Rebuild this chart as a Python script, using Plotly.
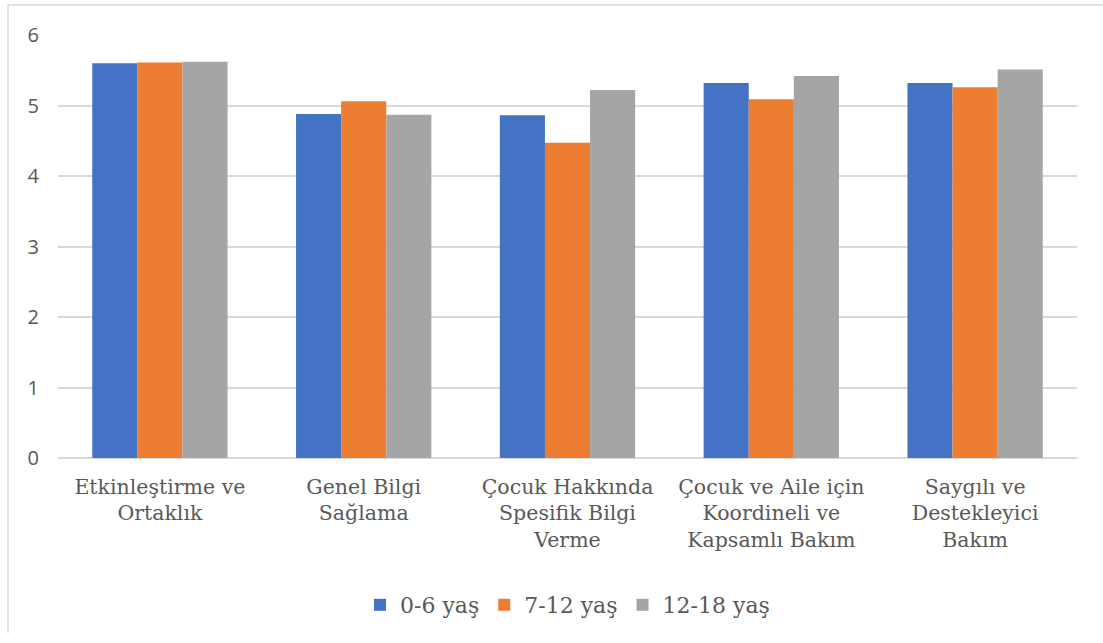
import plotly.graph_objects as go

categories = [
    "Etkinleştirme ve<br>Ortaklık",
    "Genel Bilgi<br>Sağlama",
    "Çocuk Hakkında<br>Spesifik Bilgi<br>Verme",
    "Çocuk ve Aile için<br>Koordineli ve<br>Kapsamlı Bakım",
    "Saygılı ve<br>Destekleyici<br>Bakım",
]
series_names = ["0-6 yaş", "7-12 yaş", "12-18 yaş"]
values_0_6 = [5.60, 4.88, 4.86, 5.32, 5.32]
values_7_12 = [5.61, 5.06, 4.47, 5.09, 5.26]
values_12_18 = [5.62, 4.87, 5.22, 5.42, 5.51]
colors = ["#4472C4", "#ED7D31", "#A5A5A5"]
y_ticks = [0, 1, 2, 3, 4, 5, 6]

W, H = 1103, 643
ML, MR, MT, MB = 58, 26, 35, 185
SERIF = "'DejaVu Serif', serif"

fig = go.Figure()
for name, vals, col in zip(series_names, [values_0_6, values_7_12, values_12_18], colors):
    fig.add_trace(go.Bar(name=name, x=categories, y=vals, marker=dict(color=col, line=dict(width=0))))

pw = W - ML - MR
ph = H - MT - MB

fig.update_layout(
    width=W, height=H,
    margin=dict(l=ML, r=MR, t=MT, b=MB, pad=0),
    paper_bgcolor="white", plot_bgcolor="white",
    barmode="group", bargap=0.336, bargroupgap=0,
    showlegend=True,
    font=dict(family=SERIF, color="#595959"),
    legend=dict(orientation="h", x=0.5, xanchor="center", y=(MT + ph - 605) / ph, yanchor="middle",
                font=dict(family=SERIF, size=22, color="#595959"),
                itemwidth=30, tracegroupgap=0, traceorder="normal"),
    xaxis=dict(showgrid=False, tickfont=dict(family=SERIF, size=20.5, color="#595959"),
               showline=False, ticks="", ticklabelstandoff=14),
    yaxis=dict(range=[0, 6], tickvals=y_ticks, showgrid=True, gridcolor="#D9D9D9", gridwidth=1.5,
               zeroline=True, zerolinecolor="#D9D9D9", zerolinewidth=1.5,
               tickfont=dict(family="Open Sans", size=20, color="#595959"),
               ticks="", ticklabelstandoff=18),
    shapes=[
        dict(type="line", xref="paper", yref="paper",
             x0=(8 - ML) / pw, x1=(W + 5 - ML) / pw, y0=(H - MB - 5) / ph, y1=(H - MB - 5) / ph,
             line=dict(color="#D9D9D9", width=1.5)),
        dict(type="line", xref="paper", yref="paper",
             x0=(8 - ML) / pw, x1=(8 - ML) / pw, y0=(H - MB - 5) / ph, y1=(H - MB + 10 - H) / ph,
             line=dict(color="#D9D9D9", width=1.5)),
    ],
)
fig.write_html("out.html")
